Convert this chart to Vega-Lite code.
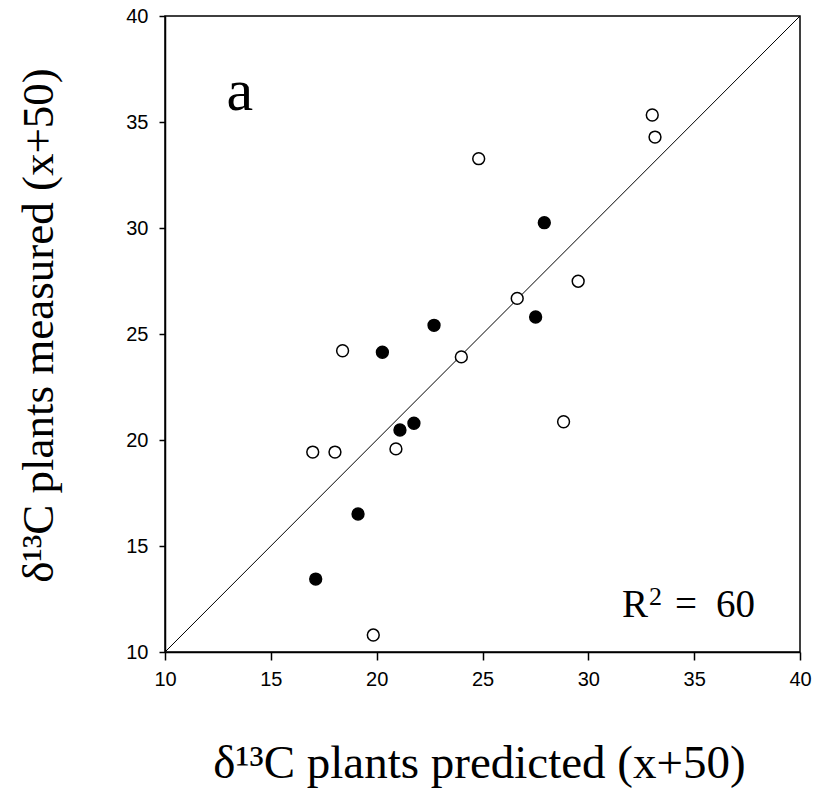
{
  "$schema": "https://vega.github.io/schema/vega-lite/v6.json",
  "width": 635,
  "height": 636,
  "autosize": {"type": "none"},
  "padding": {"left": 165, "top": 16, "right": 16, "bottom": 152},
  "background": "white",
  "config": {
    "view": {"stroke": "black", "strokeWidth": 1.5},
    "axis": {
      "grid": false,
      "labelFlush": false,
      "labelOverlap": false,
      "domainColor": "black",
      "domainWidth": 1.5,
      "tickColor": "black",
      "tickWidth": 1.5,
      "labelFont": "Liberation Sans",
      "labelFontSize": 20,
      "labelColor": "black",
      "titleFont": "Liberation Serif",
      "titleFontWeight": "normal",
      "titleColor": "black"
    }
  },
  "layer": [
    {
      "data": {"values": [{"predicted": 10, "measured": 10}, {"predicted": 40, "measured": 40}]},
      "mark": {"type": "line", "color": "black", "strokeWidth": 1},
      "encoding": {
        "x": {
          "field": "predicted", "type": "quantitative",
          "scale": {"domain": [10, 40], "nice": false, "zero": false},
          "axis": {
            "values": [10, 15, 20, 25, 30, 35, 40],
            "tickSize": 8,
            "labelPadding": 9,
            "title": "δ¹³C plants predicted (x+50)",
            "titleFontSize": 47,
            "titleX": 314,
            "titleY": 125,
            "titleBaseline": "alphabetic",
            "titleAlign": "center"
          }
        },
        "y": {
          "field": "measured", "type": "quantitative",
          "scale": {"domain": [10, 40], "nice": false, "zero": false},
          "axis": {
            "values": [10, 15, 20, 25, 30, 35, 40],
            "tickSize": 6,
            "labelPadding": 11,
            "title": "δ¹³C plants measured (x+50)",
            "titleFontSize": 45,
            "titleX": -113,
            "titleY": 309,
            "titleAngle": -90,
            "titleBaseline": "alphabetic",
            "titleAlign": "center"
          }
        }
      }
    },
    {
      "data": {
        "values": [
          {"predicted": 33.02, "measured": 35.33, "group": "open"},
          {"predicted": 33.15, "measured": 34.29, "group": "open"},
          {"predicted": 24.82, "measured": 33.27, "group": "open"},
          {"predicted": 29.52, "measured": 27.49, "group": "open"},
          {"predicted": 26.64, "measured": 26.68, "group": "open"},
          {"predicted": 18.39, "measured": 24.21, "group": "open"},
          {"predicted": 24.0, "measured": 23.92, "group": "open"},
          {"predicted": 16.98, "measured": 19.43, "group": "open"},
          {"predicted": 18.03, "measured": 19.43, "group": "open"},
          {"predicted": 20.91, "measured": 19.58, "group": "open"},
          {"predicted": 28.83, "measured": 20.86, "group": "open"},
          {"predicted": 19.84, "measured": 10.8, "group": "open"},
          {"predicted": 27.92, "measured": 30.25, "group": "filled"},
          {"predicted": 27.51, "measured": 25.8, "group": "filled"},
          {"predicted": 22.71, "measured": 25.41, "group": "filled"},
          {"predicted": 20.27, "measured": 24.14, "group": "filled"},
          {"predicted": 21.1, "measured": 20.47, "group": "filled"},
          {"predicted": 21.76, "measured": 20.79, "group": "filled"},
          {"predicted": 19.12, "measured": 16.51, "group": "filled"},
          {"predicted": 17.12, "measured": 13.44, "group": "filled"}
        ]
      },
      "mark": {"type": "point", "shape": "circle", "filled": true, "stroke": "black", "strokeWidth": 1.5, "size": 140, "opacity": 1},
      "encoding": {
        "x": {"field": "predicted", "type": "quantitative"},
        "y": {"field": "measured", "type": "quantitative"},
        "fill": {
          "field": "group", "type": "nominal",
          "scale": {"domain": ["open", "filled"], "range": ["white", "black"]},
          "legend": null
        }
      }
    },
    {
      "data": {"values": [{"predicted": 13.54, "measured": 35.57, "label": "a"}]},
      "mark": {"type": "text", "font": "Liberation Serif", "fontSize": 60, "align": "center", "baseline": "alphabetic", "color": "black"},
      "encoding": {
        "x": {"field": "predicted", "type": "quantitative"},
        "y": {"field": "measured", "type": "quantitative"},
        "text": {"field": "label"}
      }
    },
    {
      "data": {"values": [{"predicted": 31.59, "measured": 11.65, "base": "R", "sup": "2", "eq": "=", "value": "60"}]},
      "layer": [
        {
          "mark": {"type": "text", "font": "Liberation Serif", "fontSize": 39, "align": "left", "baseline": "alphabetic", "color": "black"},
          "encoding": {"text": {"field": "base"}}
        },
        {
          "mark": {"type": "text", "font": "Liberation Serif", "fontSize": 26, "align": "left", "baseline": "alphabetic", "color": "black", "dx": 27, "dy": -12},
          "encoding": {"text": {"field": "sup"}}
        },
        {
          "mark": {"type": "text", "font": "Liberation Serif", "fontSize": 39, "align": "left", "baseline": "alphabetic", "color": "black", "dx": 53},
          "encoding": {"text": {"field": "eq"}}
        },
        {
          "mark": {"type": "text", "font": "Liberation Serif", "fontSize": 39, "align": "left", "baseline": "alphabetic", "color": "black", "dx": 94},
          "encoding": {"text": {"field": "value"}}
        }
      ],
      "encoding": {
        "x": {"field": "predicted", "type": "quantitative"},
        "y": {"field": "measured", "type": "quantitative"}
      }
    }
  ]
}
